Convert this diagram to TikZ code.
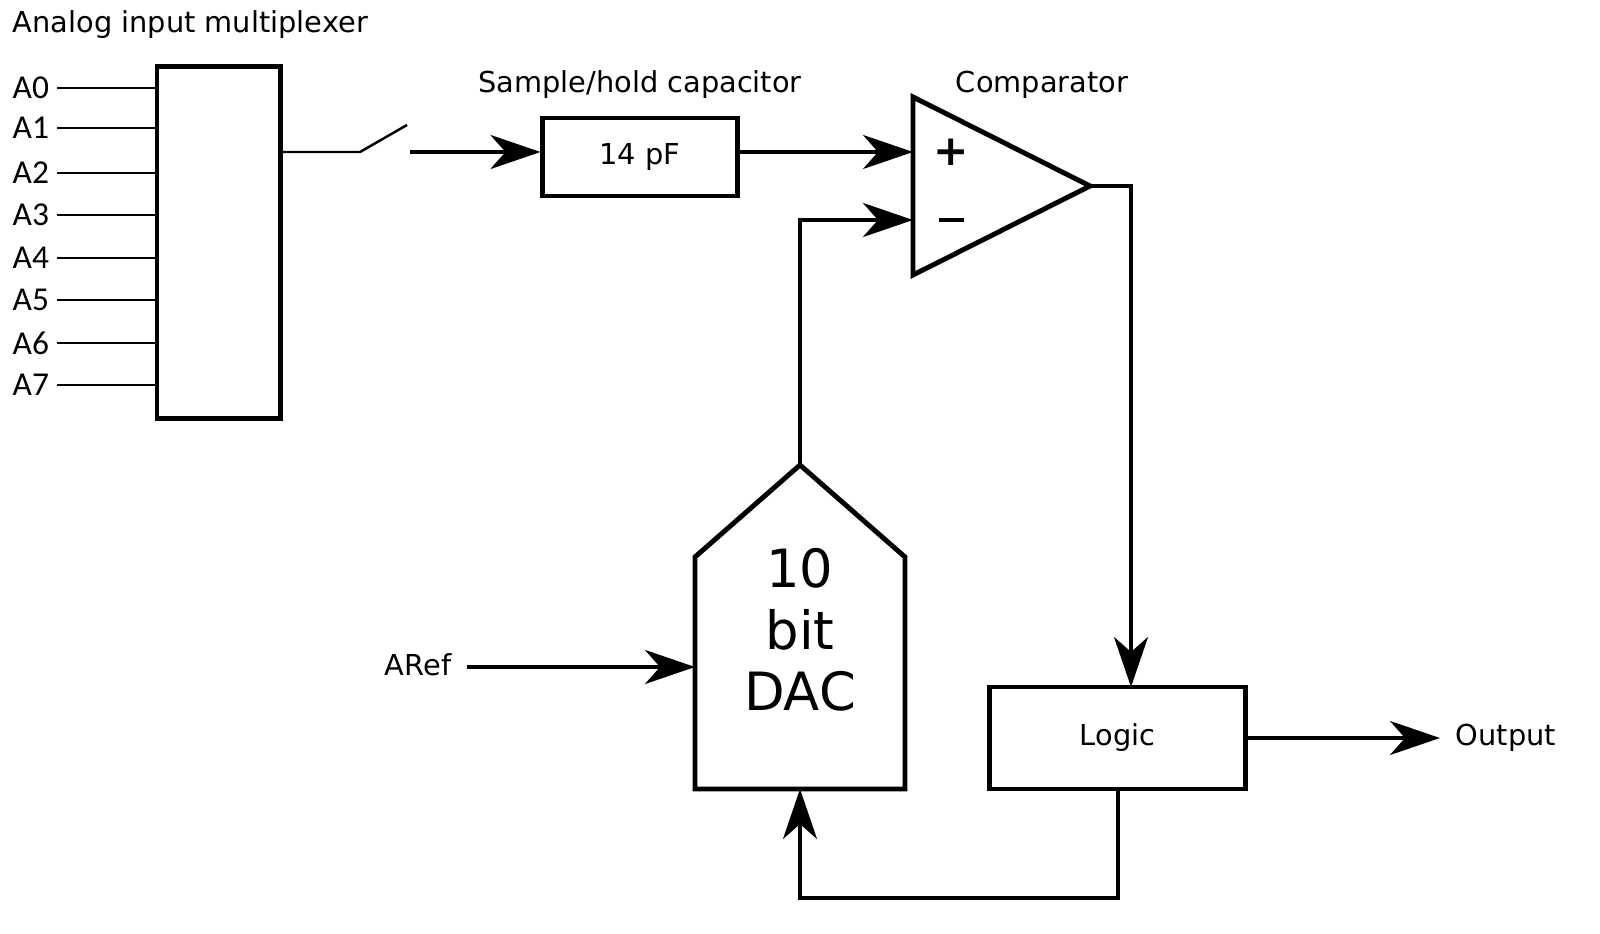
\documentclass[tikz,border=0pt]{standalone}
\usepackage{fontspec}
\setmainfont{DejaVu Sans}
\newfontfamily\labfont{Carlito}
\usetikzlibrary{arrows.meta, positioning, calc}
\tikzset{
  block/.style = {rectangle, draw=black, line width=1.4pt,
                  inner sep=0pt, align=center, font=\fontsize{8.2}{10}\selectfont},
  title/.style = {font=\fontsize{8.2}{10}\selectfont, inner sep=0pt},
  pin/.style   = {font=\labfont\fontsize{9.5}{11}\selectfont, inner sep=0pt, anchor=west},
  wire/.style  = {line width=0.7pt},
  ->/.style    = {line width=1.1pt, -{Stealth[length=5mm,width=3.4mm,inset=1.5mm]}}
}
\begin{document}
\begin{tikzpicture}[x=0.01cm, y=-0.01cm]
\useasboundingbox (0,0) rectangle (1600,934);

% Multiplexer
\node[title, anchor=west] at (12,25) (muxlabel) {Analog input multiplexer};
\node[block, minimum width=1.23cm, minimum height=3.51cm] at (218.5,242.5) (mux) {};
\foreach \i/\y in {0/88,1/128,2/173,3/215,4/258,5/300,6/343,7/385} {
  \node[pin] at (12,\y) (a\i) {A\i};
  \draw[wire] (57,\y) -- (a\i -| mux.west);
}

% Switch
\coordinate (sw1) at (360,152);
\coordinate (sw2) at (407,125);
\coordinate (sw3) at (410,152);
\draw[wire] (mux.east |- sw1) -- (sw1) -- (sw2);

% Sample/hold capacitor
\node[block, minimum width=1.94cm, minimum height=0.78cm] at (640,157) (cap) {14 pF};
\node[title] at (640,85) (caplabel) {Sample/hold capacitor};
\draw[->] (sw3) -- (cap.west |- sw3);

% Comparator
\coordinate (cplus) at (913,152);
\coordinate (cminus) at (913,220);
\coordinate (cout) at (1090,186);
\draw[line width=1.4pt, line join=miter] (913,97) -- (cout) -- (913,275) -- cycle;
\node[title] at (1042,85) (complabel) {Comparator};
\node[font=\bfseries\fontsize{12}{12}\selectfont] at (951,152) (plus) {+};
\node[inner sep=0pt] at (951,220) (minus) {\rule{0.25cm}{1.4pt}};
\draw[->] (cap.east |- cplus) -- (cplus);

% DAC
\coordinate (dactop) at (800,465);
\coordinate (dacleft) at (695,667);
\coordinate (dacbot) at (800,789);
\draw[line width=1.4pt, line join=miter] (695,557) -- (dactop) -- (905,557) -- (905,789) -- (695,789) -- cycle;
\node[align=center, font=\fontsize{15}{17.5}\selectfont] at (800,630) (dac) {10\\bit\\DAC};
\draw[->] (dactop) |- (cminus);

% Reference voltage
\node[title] at (418,665) (aref) {ARef};
\draw[->] (467,667) -- (dacleft);

% Logic
\node[block, minimum width=2.55cm, minimum height=1.02cm] at (1117.5,738) (logic) {Logic};
\draw[->] (cout) -- (1131,186) -- (1131,687);
\node[title, anchor=west] at (1455,738) (out) {Output};
\draw[->] (logic.east) -- (1440,738);
\draw[->] (1118,789) -- (1118,898) -- (800,898) -- (dacbot);

\end{tikzpicture}
\end{document}
